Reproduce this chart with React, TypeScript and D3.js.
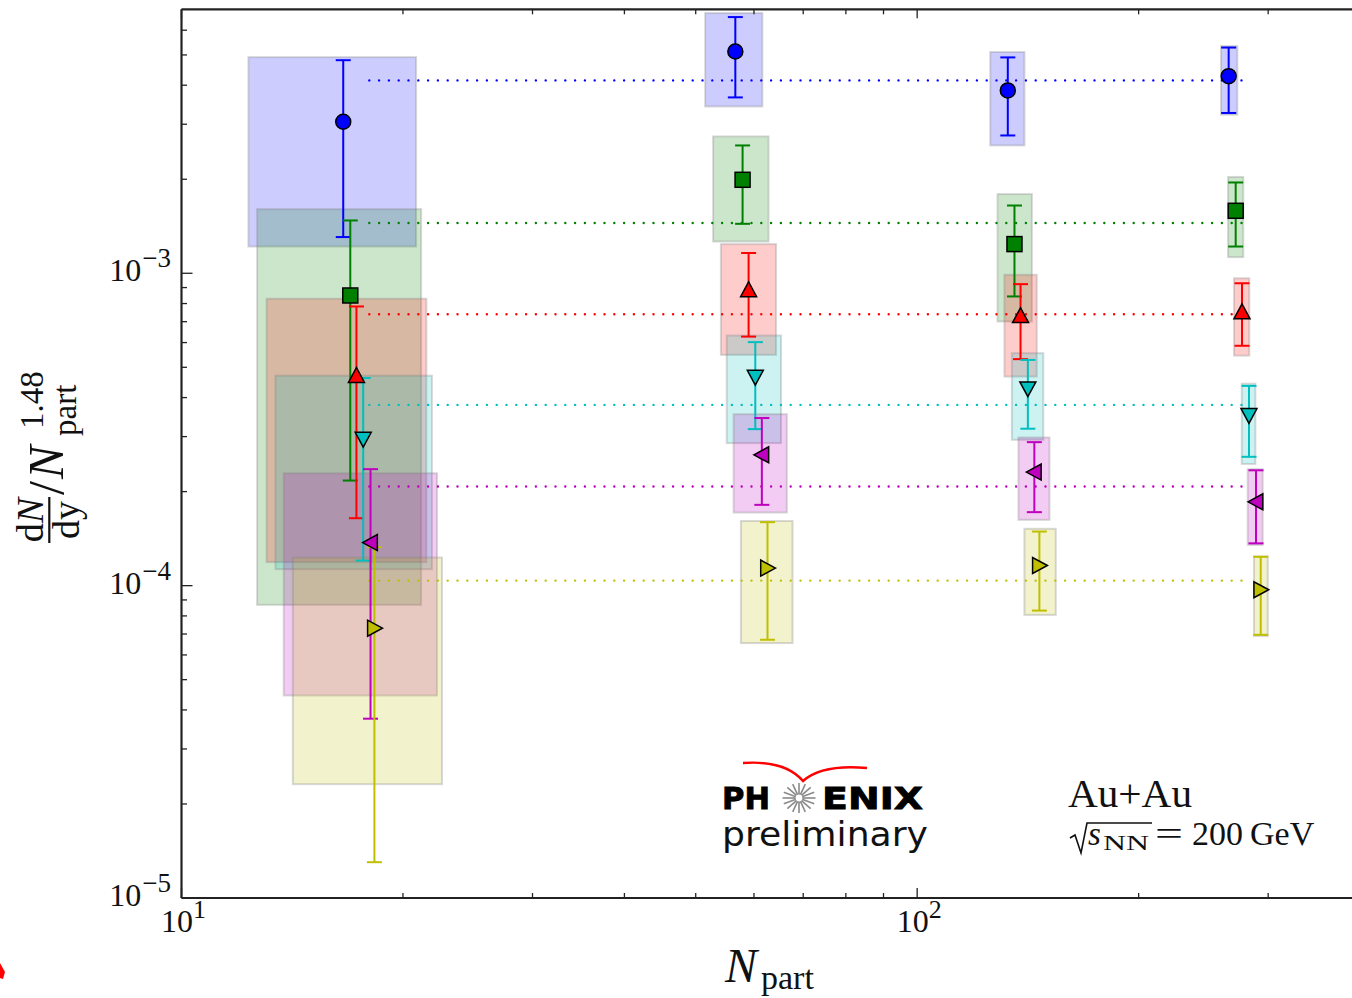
import React from "react";
import * as d3 from "d3";

const W = 1352;
const H = 998;

// axis domains
const X_MIN = 10;
const X_MAX = 390;
const Y_MIN = 1e-5;
const Y_MAX = 7.0e-3;

// ---------- data (N_part, dN/dy / N_part^1.48) ----------
// circles (blue)
const circX = [16.59, 56.6, 132.8, 265.1];
const circY = [3.055e-3, 5.13e-3, 3.85e-3, 4.277e-3];
const circErrLo = [1.306e-3, 3.656e-3, 2.762e-3, 3.26e-3];
const circErrHi = [4.81e-3, 6.61e-3, 4.91e-3, 5.28e-3];
const circSysLo = [1.218e-3, 3.42e-3, 2.566e-3, 3.22e-3];
const circSysHi = [4.92e-3, 6.81e-3, 5.11e-3, 5.34e-3];
const circNLo = [12.33, 51.5, 125.7, 258.8];
const circNHi = [20.84, 61.6, 139.9, 272.4];

// squares (green)
const sqX = [16.96, 57.9, 135.6, 271.0];
const sqY = [8.49e-4, 1.992e-3, 1.24e-3, 1.585e-3];
const sqErrLo = [2.17e-4, 1.44e-3, 8.43e-4, 1.218e-3];
const sqErrHi = [1.476e-3, 2.566e-3, 1.648e-3, 1.953e-3];
const sqSysLo = [8.68e-5, 1.264e-3, 7.01e-4, 1.126e-3];
const sqSysHi = [1.605e-3, 2.742e-3, 1.793e-3, 2.034e-3];
const sqNLo = [12.67, 52.8, 128.6, 264.6];
const sqNHi = [21.17, 62.8, 143.2, 277.5];

// up triangles (red)
const upX = [17.29, 59.0, 138.2, 276.4];
const upY = [4.7e-4, 8.85e-4, 7.31e-4, 7.52e-4];
const upErrLo = [1.644e-4, 6.27e-4, 5.31e-4, 5.86e-4];
const upErrHi = [7.83e-4, 1.161e-3, 9.23e-4, 9.29e-4];
const upSysLo = [1.189e-4, 5.48e-4, 4.67e-4, 5.45e-4];
const upSysHi = [8.29e-4, 1.24e-3, 9.89e-4, 9.64e-4];
const upNLo = [13.05, 54.1, 131.4, 269.6];
const upNHi = [21.52, 64.3, 145.4, 282.8];

// down triangles (cyan)
const dnX = [17.66, 60.25, 141.4, 282.5];
const dnY = [2.944e-4, 4.65e-4, 4.27e-4, 3.507e-4];
const dnErrLo = [1.203e-4, 3.17e-4, 3.18e-4, 2.585e-4];
const dnErrHi = [4.62e-4, 6.02e-4, 5.28e-4, 4.36e-4];
const dnSysLo = [1.129e-4, 2.86e-4, 2.93e-4, 2.453e-4];
const dnSysHi = [4.7e-4, 6.32e-4, 5.55e-4, 4.43e-4];
const dnNLo = [13.42, 55.1, 134.5, 276.2];
const dnNHi = [21.9, 65.3, 148.4, 288.2];

// left triangles (magenta)
const ltX = [18.07, 61.5, 144.3, 288.8];
const ltY = [1.374e-4, 2.623e-4, 2.31e-4, 1.855e-4];
const ltErrLo = [3.75e-5, 1.814e-4, 1.719e-4, 1.366e-4];
const ltErrHi = [2.36e-4, 3.44e-4, 2.88e-4, 2.34e-4];
const ltSysLo = [4.45e-5, 1.714e-4, 1.624e-4, 1.35e-4];
const ltSysHi = [2.29e-4, 3.54e-4, 2.98e-4, 2.36e-4];
const ltNLo = [13.77, 56.3, 137.3, 281.4];
const ltNHi = [22.25, 66.5, 151.3, 294.9];

// right triangles (yellow)
const rtX = [18.29, 62.6, 146.6, 293.1];
const rtY = [7.31e-5, 1.138e-4, 1.16e-4, 9.7e-5];
const rtErrLo = [1.302e-5, 6.71e-5, 8.32e-5, 6.96e-5];
const rtErrHi = [1.328e-4, 1.597e-4, 1.49e-4, 1.237e-4];
const rtSysLo = [2.314e-5, 6.55e-5, 8.06e-5, 6.9e-5];
const rtSysHi = [1.23e-4, 1.61e-4, 1.52e-4, 1.24e-4];
const rtNLo = [14.17, 57.6, 139.9, 287.0];
const rtNHi = [22.6, 67.7, 154.3, 299.6];

// average reference levels (dotted lines)
const refLevels = [4.145e-3, 1.448e-3, 7.39e-4, 3.79e-4, 2.077e-4, 1.038e-4];
const refStart = 18;
const refEnd = 282;

// tick values
const xMajorTicks = [10, 100];
const xMajorLabels = ["1", "2"];
const yMajorTicks = [1e-5, 1e-4, 1e-3];
const yMajorLabels = ["\u22125", "\u22124", "\u22123"];

type Shape = "circle" | "square" | "up" | "down" | "left" | "right";

const seriesList = [
  { shape: "circle" as Shape, color: "#0000ff", x: circX, y: circY, eLo: circErrLo, eHi: circErrHi, sLo: circSysLo, sHi: circSysHi, nLo: circNLo, nHi: circNHi },
  { shape: "square" as Shape, color: "#008000", x: sqX, y: sqY, eLo: sqErrLo, eHi: sqErrHi, sLo: sqSysLo, sHi: sqSysHi, nLo: sqNLo, nHi: sqNHi },
  { shape: "up" as Shape, color: "#ff0000", x: upX, y: upY, eLo: upErrLo, eHi: upErrHi, sLo: upSysLo, sHi: upSysHi, nLo: upNLo, nHi: upNHi },
  { shape: "down" as Shape, color: "#00bfbf", x: dnX, y: dnY, eLo: dnErrLo, eHi: dnErrHi, sLo: dnSysLo, sHi: dnSysHi, nLo: dnNLo, nHi: dnNHi },
  { shape: "left" as Shape, color: "#bf00bf", x: ltX, y: ltY, eLo: ltErrLo, eHi: ltErrHi, sLo: ltSysLo, sHi: ltSysHi, nLo: ltNLo, nHi: ltNHi },
  { shape: "right" as Shape, color: "#bfbf00", x: rtX, y: rtY, eLo: rtErrLo, eHi: rtErrHi, sLo: rtSysLo, sHi: rtSysHi, nLo: rtNLo, nHi: rtNHi },
];

function markerPath(shape: Shape): string {
  const a = 8;
  switch (shape) {
    case "up":
      return `M0,${-a}L${a},${a * 0.85}L${-a},${a * 0.85}Z`;
    case "down":
      return `M0,${a}L${a},${-a * 0.85}L${-a},${-a * 0.85}Z`;
    case "left":
      return `M${-a},0L${a * 0.85},${-a}L${a * 0.85},${a}Z`;
    case "right":
      return `M${a},0L${-a * 0.85},${-a}L${-a * 0.85},${a}Z`;
    default:
      return "";
  }
}

export default function App() {
  const LEFT = 181.5;
  const RIGHT = W;
  const TOP = 9.3;
  const BOTTOM = 898;
  const x = d3.scaleLog().domain([X_MIN, X_MAX]).range([LEFT, RIGHT]);
  const y = d3.scaleLog().domain([Y_MIN, Y_MAX]).range([BOTTOM, TOP]);

  // minor ticks
  const xMinor: number[] = [];
  for (const dec of [10, 100]) {
    for (let k = 2; k <= 9; k++) {
      const v = dec * k;
      if (v < X_MAX) xMinor.push(v);
    }
  }
  const yMinor: number[] = [];
  for (const dec of [1e-5, 1e-4, 1e-3]) {
    for (let k = 2; k <= 9; k++) {
      const v = dec * k;
      if (v < Y_MAX) yMinor.push(v);
    }
  }

  const serif = "'Liberation Serif', 'Times New Roman', serif";
  const sans = "'DejaVu Sans', Verdana, sans-serif";
  const capW = 7.5;

  // Phoenix star rays
  const starCx = 799;
  const starCy = 798;
  const rays = d3.range(16).map((i) => (i * Math.PI * 2) / 16);

  return (
    <svg
      width={W}
      height={H}
      viewBox={`0 0 ${W} ${H}`}
      style={{ position: "absolute", left: 0, top: 0, display: "block", background: "#fff" }}
    >
      <rect x={0} y={0} width={W} height={H} fill="#fff" />

      {/* systematic boxes */}
      {seriesList.map((s, si) => (
        <g key={`box${si}`}>
          {s.x.map((_, i) => (
            <rect
              key={i}
              x={x(s.nLo[i])}
              y={y(s.sHi[i])}
              width={x(s.nHi[i]) - x(s.nLo[i])}
              height={y(s.sLo[i]) - y(s.sHi[i])}
              fill={s.color}
              fillOpacity={0.2}
              stroke="#808080"
              strokeOpacity={0.3}
              strokeWidth={2}
            />
          ))}
        </g>
      ))}

      {/* dotted reference lines */}
      {refLevels.map((v, i) => (
        <line
          key={`ref${i}`}
          x1={x(refStart)}
          x2={x(refEnd)}
          y1={y(v)}
          y2={y(v)}
          stroke={seriesList[i].color}
          strokeWidth={2.4}
          strokeLinecap="round"
          strokeDasharray="0 9.8"
        />
      ))}

      {/* error bars */}
      {seriesList.map((s, si) => (
        <g key={`err${si}`} stroke={s.color} strokeWidth={2}>
          {s.x.map((xv, i) => {
            const px = x(xv);
            return (
              <g key={i}>
                <line x1={px} x2={px} y1={y(s.eHi[i])} y2={y(s.eLo[i])} />
                <line x1={px - capW} x2={px + capW} y1={y(s.eHi[i])} y2={y(s.eHi[i])} />
                <line x1={px - capW} x2={px + capW} y1={y(s.eLo[i])} y2={y(s.eLo[i])} />
              </g>
            );
          })}
        </g>
      ))}

      {/* markers */}
      {seriesList.map((s, si) => (
        <g key={`mk${si}`}>
          {s.x.map((xv, i) => {
            const px = x(xv);
            const py = y(s.y[i]);
            if (s.shape === "circle")
              return <circle key={i} cx={px} cy={py} r={7.5} fill={s.color} stroke="#000" strokeWidth={1.5} />;
            if (s.shape === "square")
              return (
                <rect key={i} x={px - 7.5} y={py - 7.5} width={15} height={15} fill={s.color} stroke="#000" strokeWidth={1.5} />
              );
            return (
              <path
                key={i}
                d={markerPath(s.shape)}
                transform={`translate(${px},${py})`}
                fill={s.color}
                stroke="#000"
                strokeWidth={1.5}
                strokeLinejoin="miter"
              />
            );
          })}
        </g>
      ))}

      {/* frame */}
      <g stroke="#222" strokeWidth={2.2} fill="none">
        <line x1={LEFT} x2={LEFT} y1={TOP} y2={BOTTOM} />
        <line x1={LEFT} x2={RIGHT} y1={TOP} y2={TOP} />
        <line x1={LEFT} x2={RIGHT} y1={BOTTOM} y2={BOTTOM} />
      </g>

      {/* x ticks (bottom & top, inward) */}
      <g stroke="#222" strokeWidth={1.3}>
        {xMajorTicks.map((v) => (
          <g key={`xM${v}`}>
            <line x1={x(v)} x2={x(v)} y1={BOTTOM} y2={BOTTOM - 10} />
            <line x1={x(v)} x2={x(v)} y1={TOP} y2={TOP + 9} />
          </g>
        ))}
        {xMinor.map((v) => (
          <g key={`xm${v}`}>
            <line x1={x(v)} x2={x(v)} y1={BOTTOM} y2={BOTTOM - 5} />
            <line x1={x(v)} x2={x(v)} y1={TOP} y2={TOP + 5} />
          </g>
        ))}
        {yMajorTicks.map((v) => (
          <line key={`yM${v}`} x1={LEFT} x2={LEFT + 11} y1={y(v)} y2={y(v)} />
        ))}
        {yMinor.map((v) => (
          <line key={`ym${v}`} x1={LEFT} x2={LEFT + 5.5} y1={y(v)} y2={y(v)} />
        ))}
      </g>

      {/* y tick labels */}
      {yMajorTicks.map((v, i) => (
        <text key={`yl${v}`} x={171} y={y(v) + 8} textAnchor="end" fontFamily={serif} fontSize={32} fill="#111">
          10
          <tspan style={{ fontSize: "27px" }} dx={1} dy={-14}>
            {yMajorLabels[i]}
          </tspan>
        </text>
      ))}

      {/* x tick labels */}
      {xMajorTicks.map((v, i) => (
        <text key={`xl${v}`} x={x(v) + 2} y={932} textAnchor="middle" fontFamily={serif} fontSize={32} fill="#111">
          10
          <tspan style={{ fontSize: "26px" }} dy={-14}>
            {xMajorLabels[i]}
          </tspan>
        </text>
      ))}

      {/* x axis title */}
      <text x={725} y={982} fontFamily={serif} fontSize={48} fontStyle="italic" fill="#111">
        N
      </text>
      <text x={761} y={989} fontFamily={serif} fontSize={34} fill="#111">
        part
      </text>

      {/* y axis title */}
      <g transform="translate(63,543) rotate(-90)" fontFamily={serif} fill="#111">
        <line x1={0} x2={46} y1={-13.7} y2={-13.7} stroke="#111" strokeWidth={2.2} />
        <text x={23} y={-20} textAnchor="middle" fontSize={38}>
          d<tspan fontStyle="italic">N</tspan>
        </text>
        <text x={23} y={16} textAnchor="middle" fontSize={38}>
          dy
        </text>
        <text x={48} y={0} fontSize={50}>
          /
        </text>
        <text x={64} y={0} fontSize={50} fontStyle="italic">
          N
        </text>
        <text x={114} y={-20} fontSize={33}>
          1.48
        </text>
        <text x={107} y={13} fontSize={33}>
          part
        </text>
      </g>

      {/* PHENIX logo */}
      <path
        d="M743,763 Q785,760 803,781 Q822,764 867,768"
        fill="none"
        stroke="#ff0000"
        strokeWidth={2.5}
      />
      <text x={722} y={809} fontFamily={sans} fontWeight="bold" fontSize={30} textLength={48} lengthAdjust="spacingAndGlyphs" fill="#000" stroke="#000" strokeWidth={0.8}>
        PH
      </text>
      <text x={822} y={809} fontFamily={sans} fontWeight="bold" fontSize={30} textLength={101} lengthAdjust="spacingAndGlyphs" fill="#000" stroke="#000" strokeWidth={0.8}>
        ENIX
      </text>
      <g stroke="#8a8a8a" strokeWidth={1.6}>
        {rays.map((a, i) => (
          <line
            key={i}
            x1={starCx + Math.cos(a) * 4}
            y1={starCy + Math.sin(a) * 4}
            x2={starCx + Math.cos(a) * 16.5}
            y2={starCy + Math.sin(a) * 15}
          />
        ))}
      </g>
      <circle cx={starCx} cy={starCy} r={4} fill="#fff" stroke="#8a8a8a" strokeWidth={1.2} />
      <text x={722} y={846} fontFamily={sans} fontSize={33} textLength={206} lengthAdjust="spacingAndGlyphs" fill="#111">
        preliminary
      </text>

      {/* collision system annotation */}
      <text x={1068} y={807} fontFamily={serif} fontSize={40} textLength={124} lengthAdjust="spacingAndGlyphs" fill="#111">
        Au+Au
      </text>
      <path d="M1070,838 L1075,835 L1081,853 L1087,823 L1152,823" fill="none" stroke="#111" strokeWidth={1.6} />
      <text x={1088} y={845} fontFamily={serif} fontSize={33} fontStyle="italic" fill="#111">
        s
      </text>
      <text x={1103} y={850} fontFamily={serif} fontSize={22} textLength={46} lengthAdjust="spacingAndGlyphs" fill="#111">
        NN
      </text>
      <text x={1155} y={845} fontFamily={serif} fontSize={34} textLength={28} lengthAdjust="spacingAndGlyphs" fill="#111">
        =
      </text>
      <text x={1192} y={845} fontFamily={serif} fontSize={34} fill="#111">
        200
      </text>
      <text x={1250} y={845} fontFamily={serif} fontSize={34} fill="#111">
        GeV
      </text>

      {/* edge artifact from neighbouring figure */}
      <path d="M0,963 L5,972 L3,979 L0,978 Z" fill="#ff0000" />
    </svg>
  );
}
